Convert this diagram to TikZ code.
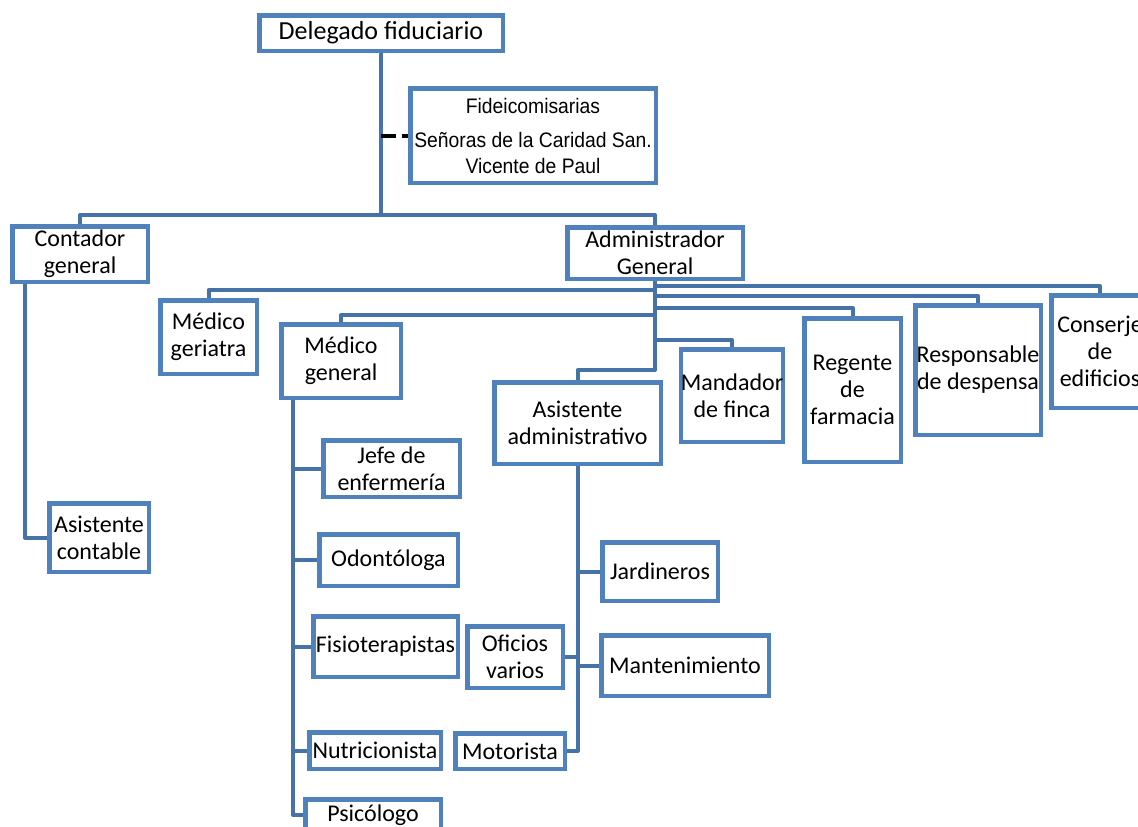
\documentclass[tikz,border=0pt]{standalone}
\usepackage{fontspec}
\setmainfont{Carlito}
\newfontfamily\arialfont[FakeStretch=0.92]{Liberation Sans}
\usepackage{tikz}
\usetikzlibrary{calc}
\definecolor{boxblue}{RGB}{79,129,189}
\definecolor{linkblue}{RGB}{69,114,167}
\pgfdeclarelayer{bg}
\pgfsetlayers{bg,main}

\begin{document}
\begin{tikzpicture}
  [
    x=1pt, y=-1pt,
    box/.style = {draw=boxblue, line width=4.5pt, fill=white, rectangle, align=center, inner sep=0pt, font=\fontsize{24}{27}\selectfont},
    wh/.style 2 args = {minimum width=#1pt-4.5pt, minimum height=#2pt-4.5pt},
    link/.style = {draw=linkblue, line width=4pt, line join=round},
    dashlink/.style = {draw=black, line width=4pt, dash pattern=on 15pt off 6pt},
  ]

  \useasboundingbox (0,0) rectangle (1138,827);
  \clip (0,0) rectangle (1138,827);

  % top
  \node (deleg) at (381,33) [box, wh={248}{40}, font=\fontsize{26}{30}\selectfont] {Delegado fiduciario};
  \node (fidei) at (533,135.5) [box, wh={250}{99}, font=\arialfont\fontsize{21}{26}\selectfont]
    {Fideicomisarias\\[8pt]Señoras de la Caridad San.\\Vicente de Paul};

  % second level
  \node (cont) at (80,254) [box, wh={140}{60}] {Contador\\general};
  \node (admin) at (655,253) [box, wh={180}{56}] {Administrador\\General};
  \node (acont) at (99,537.5) [box, wh={104}{73}] {Asistente\\contable};

  % under the administrador
  \node (ger) at (208.5,337) [box, wh={101}{78}] {Médico\\geriatra};
  \node (medgen) at (341,361) [box, wh={124}{78}] {Médico\\general};
  \node (asadm) at (577.5,423) [box, wh={171}{86}] {Asistente\\administrativo};
  \node (mand) at (732,395.5) [box, wh={106}{97}] {Mandador\\de finca};
  \node (reg) at (852.5,390) [box, wh={101}{148}] {Regente\\de\\farmacia};
  \node (resp) at (978,370) [box, wh={130}{134}] {Responsable\\de despensa};
  \node (cons) at (1100,351.5) [box, wh={102}{117}] {Conserje\\de\\edificios};

  % medico general
  \node (jefe) at (391.5,468.5) [box, wh={141}{61}] {Jefe de\\enfermería};
  \node (odon) at (388.5,560) [box, wh={143}{56}] {Odontóloga};
  \node (fisio) at (385.5,646.5) [box, wh={149}{65}] {Fisioterapistas};
  \node (nutri) at (375,750.5) [box, wh={136}{41}] {Nutricionista};
  \node (psic) at (373,815) [box, wh={140}{36}] {Psicólogo};

  % asistente administrativo
  \node (jard) at (660,571.5) [box, wh={120}{63}] {Jardineros};
  \node (mant) at (685,665.5) [box, wh={172}{65}] {Mantenimiento};
  \node (ofic) at (515,657) [box, wh={100}{66}] {Oficios\\varios};
  \node (moto) at (510,751) [box, wh={114}{40}] {Motorista};

  \begin{pgfonlayer}{bg}
    \draw[link] (deleg.south) |- ([yshift=9pt]cont.north) -- (cont.north);
    \draw[link] (deleg.south) |- ([yshift=10pt]admin.north) -- (admin.north);
    \draw[dashlink] (deleg.south |- fidei.west) -- (fidei.west);

    \foreach \n/\s in {ger/8,medgen/7,asadm/10,mand/7,reg/8,resp/7,cons/7}
      \draw[link] (admin.south) |- ([yshift=\s pt]\n.north) -- (\n.north);

    \draw[link] ([xshift=-55pt]cont.south) |- (acont.west);

    \foreach \n in {jefe,odon,fisio,nutri,psic}
      \draw[link] ([xshift=-48pt]medgen.south) |- (\n.west);

    \foreach \n in {jard,mant}
      \draw[link] (asadm.south) |- (\n.west);
    \foreach \n in {ofic,moto}
      \draw[link] (asadm.south) |- (\n.east);
  \end{pgfonlayer}

\end{tikzpicture}
\end{document}
